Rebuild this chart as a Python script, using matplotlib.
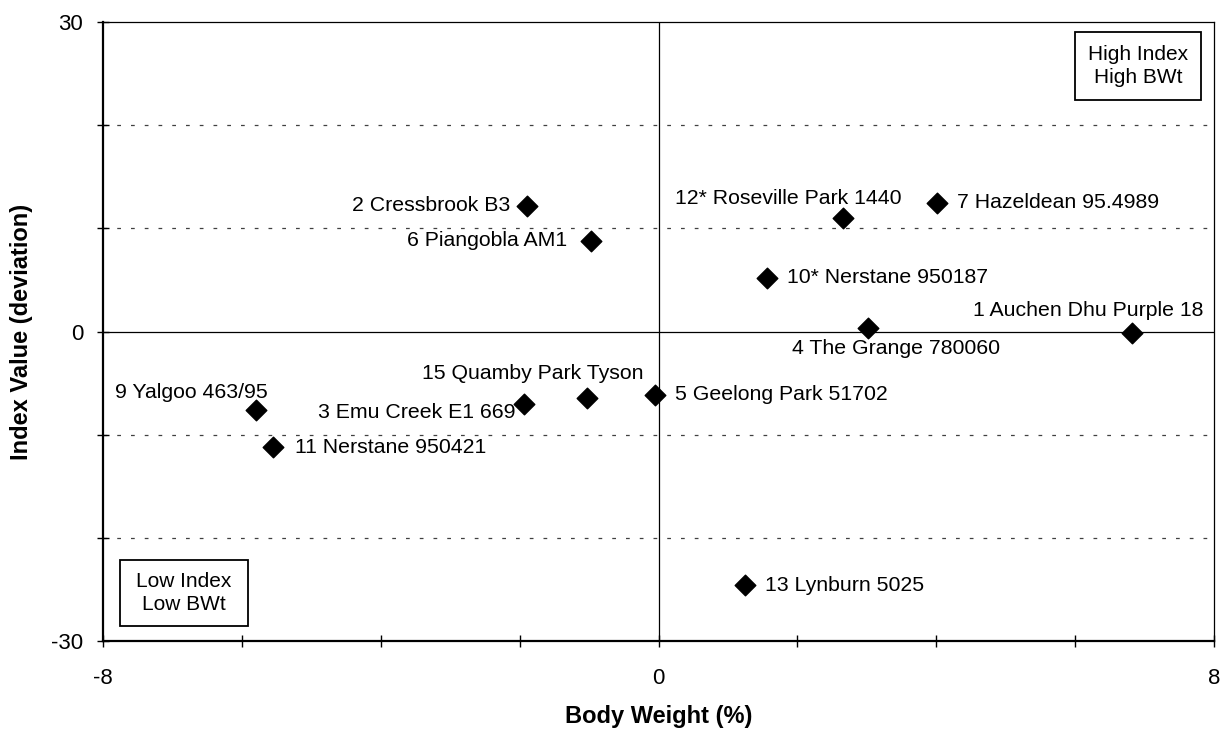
import matplotlib
matplotlib.use("Agg")
import matplotlib.pyplot as plt
from matplotlib.ticker import FixedLocator
from matplotlib.patches import Rectangle

plt.rcParams['font.family'] = ['Liberation Sans', 'DejaVu Sans']
plt.rcParams['axes.unicode_minus'] = False

names = ["2 Cressbrook B3", "6 Piangobla AM1", "12* Roseville Park 1440",
         "7 Hazeldean 95.4989", "10* Nerstane 950187", "4 The Grange 780060",
         "1 Auchen Dhu Purple 18", "9 Yalgoo 463/95", "11 Nerstane 950421",
         "3 Emu Creek E1 669", "15 Quamby Park Tyson", "5 Geelong Park 51702",
         "13 Lynburn 5025"]
body_weight = [-1.89, -0.97, 2.66, 4.01, 1.56, 3.02, 6.82, -5.80, -5.55,
               -1.94, -1.03, -0.05, 1.25]
index_value = [12.2, 8.8, 11.05, 12.5, 5.2, 0.35, -0.15, -7.6, -11.2,
               -7.0, -6.45, -6.15, -24.6]

# label placement: (dx px, dy px (down +), ha)
placement = {
    "2 Cressbrook B3": (-17, 0, 'right'),
    "6 Piangobla AM1": (-24, 0, 'right'),
    "12* Roseville Park 1440": (-55, -19, 'center'),
    "7 Hazeldean 95.4989": (20, 0, 'left'),
    "10* Nerstane 950187": (20, 0, 'left'),
    "4 The Grange 780060": (28, 21, 'center'),
    "1 Auchen Dhu Purple 18": (71, -23, 'right'),
    "9 Yalgoo 463/95": (12, -17, 'right'),
    "11 Nerstane 950421": (22, 0, 'left'),
    "3 Emu Creek E1 669": (-8, 9, 'right'),
    "15 Quamby Park Tyson": (57, -25, 'right'),
    "5 Geelong Park 51702": (20, 0, 'left'),
    "13 Lynburn 5025": (20, 0, 'left'),
}

W, H = 1231, 734
fig = plt.figure(figsize=(W/100, H/100), dpi=100)
L, R, T, B = 103, 1214, 22, 641
ax = fig.add_axes([L/W, 1-B/H, (R-L)/W, (B-T)/H])

ax.set_xlim(-8, 8)
ax.set_ylim(-30, 30)

for yv in [-20, -10, 10, 20]:
    ax.axhline(yv, color='#404040', lw=0.9, linestyle=(0, (3, 8)), zorder=1)
ax.axhline(0, color='black', lw=0.9, zorder=1)
ax.axvline(0, color='black', lw=0.9, zorder=1)

ax.scatter(body_weight, index_value, marker='D', s=110, color='black', zorder=3)

px2pt = 0.72
for n, xv, yv in zip(names, body_weight, index_value):
    dx, dy, ha = placement[n]
    ax.annotate(n, (xv, yv), xytext=(dx*px2pt, -dy*px2pt), textcoords='offset points',
                ha=ha, va='center', fontsize=15.3, zorder=4)

ax.xaxis.set_major_locator(FixedLocator([-8, 0, 8]))
ax.xaxis.set_minor_locator(FixedLocator([-6, -4, -2, 2, 4, 6]))
ax.yaxis.set_major_locator(FixedLocator([-30, 0, 30]))
ax.yaxis.set_minor_locator(FixedLocator([-20, -10, 10, 20]))
ax.tick_params(axis='x', which='both', direction='inout', length=8.5, width=1,
               labelsize=16, pad=15.5)
ax.tick_params(axis='y', which='both', direction='inout', length=8.5, width=1,
               labelsize=16, pad=10)

for s in ['left', 'bottom']:
    ax.spines[s].set_linewidth(1.6)
for s in ['top', 'right']:
    ax.spines[s].set_linewidth(0.9)

ax.set_xlabel("Body Weight (%)", fontsize=17, fontweight='bold')
ax.set_ylabel("Index Value (deviation)", fontsize=17, fontweight='bold')
ax.xaxis.set_label_coords(0.5, (B-705)/(B-T))
ax.yaxis.set_label_coords((33-L)/(R-L), 0.5)

def box(x0, y0, x1, y1, txt):
    fig.patches.append(Rectangle((x0/W, 1-y1/H), (x1-x0)/W, (y1-y0)/H,
                                 transform=fig.transFigure, fc='white', ec='black',
                                 lw=1.3, zorder=5))
    fig.text((x0+x1)/2/W, 1-(y0+y1)/2/H, txt, ha='center', va='center',
             fontsize=15, linespacing=1.25, zorder=6)

box(1075, 32, 1201, 100, "High Index\nHigh BWt")
box(120, 560, 248, 626, "Low Index\nLow BWt")

fig.savefig("out.png", dpi=100)
